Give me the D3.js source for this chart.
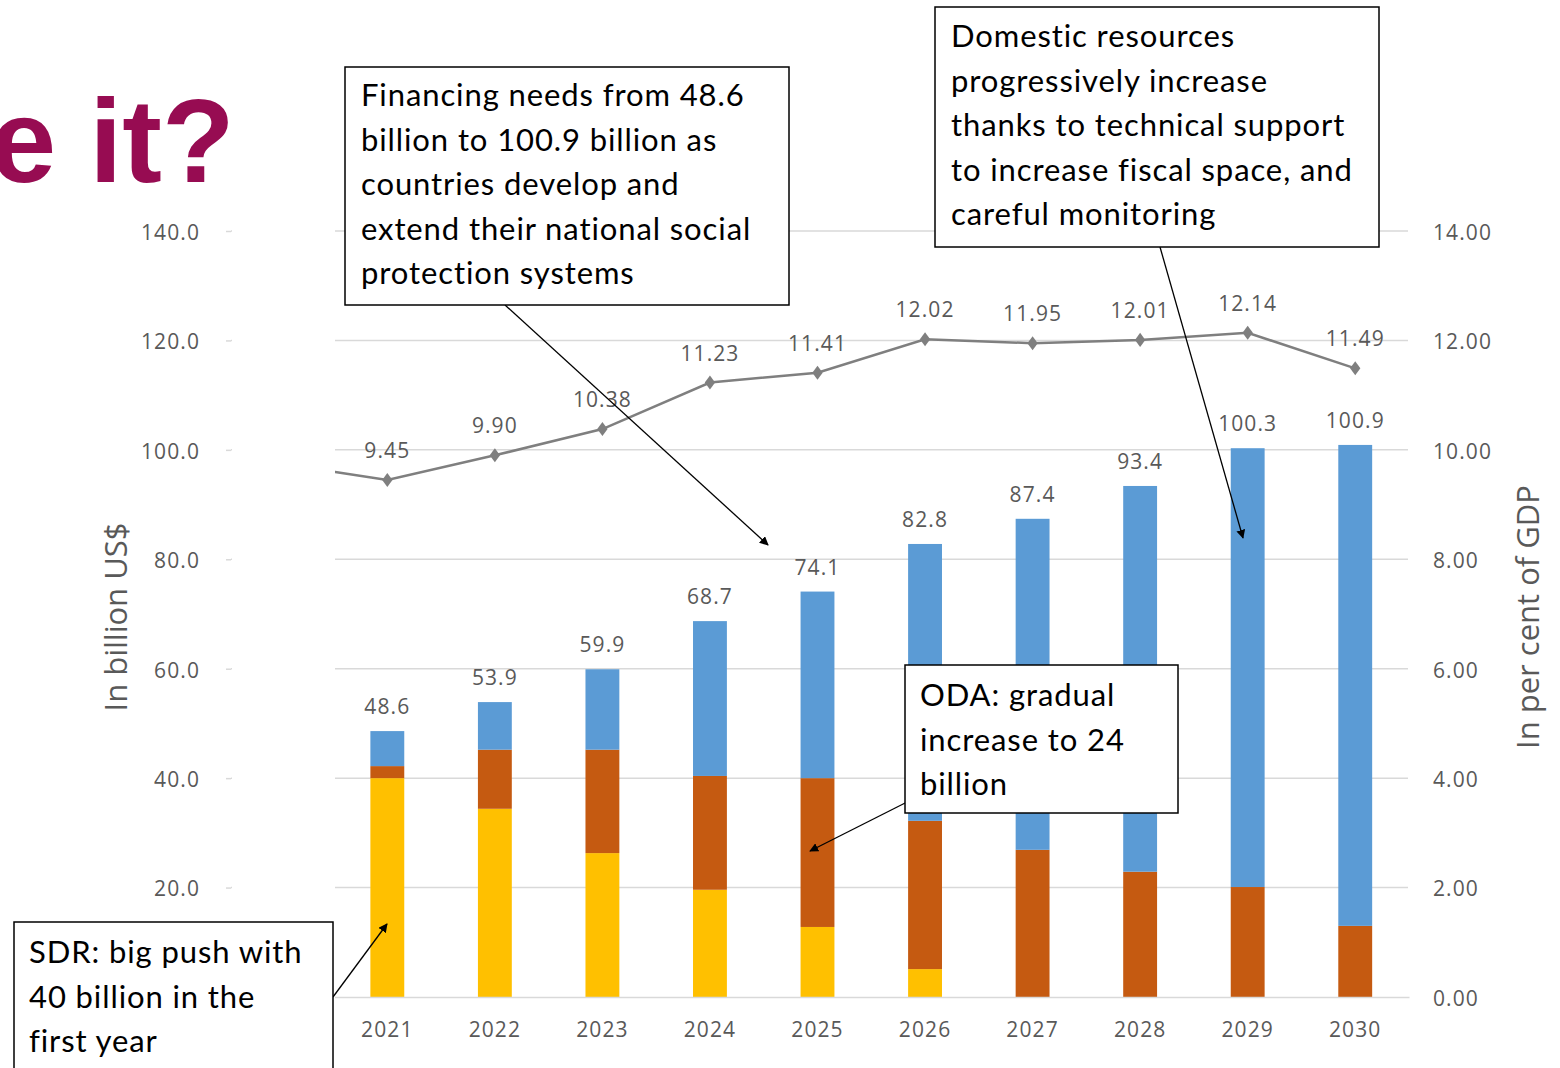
<!DOCTYPE html>
<html>
<head>
<meta charset="utf-8">
<script src="https://cdn.jsdelivr.net/npm/d3@7"></script>
<style>
  body { margin: 0; background: #fff; }
  svg { display: block; }
</style>
</head>
<body>
<div id="chart"></div>
<script>
// axis categories (2020 only exists so the line can come in from the left, it sits under the white mask)
var years = ["2020", "2021", "2022", "2023", "2024", "2025", "2026", "2027", "2028", "2029", "2030"];
var barYears = ["2021", "2022", "2023", "2024", "2025", "2026", "2027", "2028", "2029", "2030"];

// stacked bars, billion US$
var sdr      = [40.0, 34.4, 26.3, 19.6, 12.8, 5.1, 0, 0, 0, 0];
var oda      = [2.2, 10.8, 18.9, 20.8, 27.2, 27.1, 26.9, 22.9, 20.1, 13.0];
var totals   = [48.6, 53.9, 59.9, 68.7, 74.1, 82.8, 87.4, 93.4, 100.3, 100.9];

// line, per cent of GDP
var gdpShare = [9.75, 9.45, 9.90, 10.38, 11.23, 11.41, 12.02, 11.95, 12.01, 12.14, 11.49];

var leftTicks = [0, 20, 40, 60, 80, 100, 120, 140];
var rightTicks = [0, 2, 4, 6, 8, 10, 12, 14];

var W = 1560, H = 1068;
var svg = d3.select("#chart").append("svg").attr("width", W).attr("height", H);

var x = d3.scaleBand().domain(years).range([226, 1409]).paddingInner(0.685).paddingOuter(0.3425);
var yL = d3.scaleLinear().domain([0, 140]).range([997, 231]);
var yR = d3.scaleLinear().domain([0, 14]).range([997, 231]);

var grey = "#595959";
var tickFont = "'Open Sans', sans-serif";
function tickStyle(sel){
    sel.attr("fill", grey).style("font-family", tickFont).style("font-size", "21px").style("letter-spacing", "1.1px");
}

// gridlines
svg.append("g").selectAll("line").data(leftTicks.slice(1)).enter().append("line")
    .attr("x1", 231).attr("x2", 1408)
    .attr("y1", function(d){ return yL(d); }).attr("y2", function(d){ return yL(d); })
    .attr("stroke", "#d9d9d9").attr("stroke-width", 1.5);

// left axis (0.0 sits under the SDR callout, so it is left out)
var gL = svg.append("g").attr("transform", "translate(231,0)")
    .call(d3.axisLeft(yL).tickValues(leftTicks.filter(function(d){ return d > 0; }))
        .tickSize(5).tickPadding(26).tickFormat(d3.format(".1f")));
gL.select(".domain").remove();
gL.selectAll("line").attr("stroke", "#d9d9d9").attr("stroke-width", 1.5);
gL.selectAll("text").call(tickStyle).attr("dy", "0.4em");

// right axis
var gR = svg.append("g").attr("transform", "translate(1408,0)")
    .call(d3.axisRight(yR).tickValues(rightTicks).tickSize(0).tickPadding(25).tickFormat(d3.format(".2f")));
gR.select(".domain").remove();
gR.selectAll("text").call(tickStyle).attr("dy", "0.4em");

// stacked bars
var rows = barYears.map(function(yr, i){
    return { year: yr, sdr: sdr[i], oda: oda[i], dom: +(totals[i] - sdr[i] - oda[i]).toFixed(1) };
});
var stack = d3.stack().keys(["sdr", "oda", "dom"])(rows);
var colors = { sdr: "#ffc000", oda: "#c55a11", dom: "#5b9bd5" };

svg.append("g").selectAll("g").data(stack).enter().append("g")
    .attr("fill", function(s){ return colors[s.key]; })
  .selectAll("rect").data(function(s){ return s; }).enter().append("rect")
    .attr("x", function(d){ return x(d.data.year); })
    .attr("width", x.bandwidth())
    .attr("y", function(d){ return yL(d[1]); })
    .attr("height", function(d){ return yL(d[0]) - yL(d[1]); });

// bar totals
svg.append("g").selectAll("text").data(barYears).enter().append("text")
    .attr("x", function(d){ return x(d) + x.bandwidth() / 2; })
    .attr("y", function(d, i){ return yL(totals[i]) - 17; })
    .attr("text-anchor", "middle").call(tickStyle)
    .text(function(d, i){ return totals[i].toFixed(1); });

// line
var cx = function(d, i){ return x(years[i]) + x.bandwidth() / 2; };
var line = d3.line().x(cx).y(function(d){ return yR(d); });
svg.append("path").datum(gdpShare).attr("d", line)
    .attr("fill", "none").attr("stroke", "#7f7f7f").attr("stroke-width", 2.5);
svg.append("g").selectAll("path").data(gdpShare).enter().append("path")
    .attr("d", d3.symbol().type(d3.symbolDiamond).size(70))
    .attr("transform", function(d, i){ return "translate(" + cx(d, i) + "," + yR(d) + ") scale(1.15,0.9)"; })
    .attr("fill", "#7f7f7f");
svg.append("g").selectAll("text").data(gdpShare).enter().append("text")
    .attr("x", cx)
    .attr("y", function(d){ return yR(d) - 22; })
    .attr("text-anchor", "middle").call(tickStyle)
    .text(function(d){ return d.toFixed(2); });

// x labels
var gX = svg.append("g").attr("transform", "translate(0,997)")
    .call(d3.axisBottom(x).tickSize(0).tickPadding(25));
gX.select(".domain").attr("stroke", "#d9d9d9").attr("stroke-width", 1.5);
gX.selectAll("text").call(tickStyle);

// white shape covering the first category
svg.append("rect").attr("x", 232).attr("y", 200).attr("width", 103).attr("height", 868).attr("fill", "#fff");

// axis titles
svg.append("text").attr("transform", "translate(127,617) rotate(-90)")
    .attr("text-anchor", "middle").attr("fill", grey)
    .style("font-family", tickFont).style("font-size", "31px").text("In billion US$");
svg.append("text").attr("transform", "translate(1539,617) rotate(-90)")
    .attr("text-anchor", "middle").attr("fill", grey)
    .style("font-family", tickFont).style("font-size", "31px").text("In per cent of GDP");

// slide title fragment
svg.append("text").attr("x", -10).attr("y", 182)
    .attr("fill", "#970c52").style("font-family", "'Liberation Sans', Arial, sans-serif")
    .style("font-weight", "bold").style("font-size", "119px").text("e it?");

// callouts
svg.append("defs").append("marker").attr("id", "arr")
    .attr("viewBox", "0 0 10 10").attr("refX", 9).attr("refY", 5)
    .attr("markerWidth", 9).attr("markerHeight", 9).attr("orient", "auto")
    .attr("markerUnits", "userSpaceOnUse")
  .append("path").attr("d", "M0,0 L10,5 L0,10 z").attr("fill", "#000");

var notes = [
    { box: [345, 67, 444, 238], tx: 361, ty: 106, lines: ["Financing needs from 48.6", "billion to 100.9  billion as", "countries develop and", "extend their national social", "protection systems"], arrow: [505, 305, 768, 545] },
    { box: [935, 7, 444, 240], tx: 951, ty: 47, lines: ["Domestic resources", "progressively increase", "thanks to technical support", "to increase fiscal space, and", "careful monitoring"], arrow: [1160, 247, 1243, 538] },
    { box: [905, 665, 273, 148], tx: 920, ty: 706, lines: ["ODA: gradual", "increase to 24", "billion"], arrow: [917, 797, 810, 851] },
    { box: [14, 922, 319, 160], tx: 29, ty: 963, lines: ["SDR: big push with", "40 billion in the", "first year"], arrow: [333, 997, 387, 924] }
];

notes.forEach(function(n){
    svg.append("line").attr("x1", n.arrow[0]).attr("y1", n.arrow[1]).attr("x2", n.arrow[2]).attr("y2", n.arrow[3])
        .attr("stroke", "#000").attr("stroke-width", 1.3).attr("marker-end", "url(#arr)");
    svg.append("rect").attr("x", n.box[0]).attr("y", n.box[1]).attr("width", n.box[2]).attr("height", n.box[3])
        .attr("fill", "#fff").attr("stroke", "#000").attr("stroke-width", 1.5);
    var t = svg.append("text").attr("fill", "#000").style("font-family", "Lato, sans-serif")
        .style("font-size", "31px").style("letter-spacing", "0.9px");
    n.lines.forEach(function(l, i){
        t.append("tspan").attr("x", n.tx).attr("y", n.ty + i * 44.5).text(l);
    });
});
</script>
</body>
</html>
